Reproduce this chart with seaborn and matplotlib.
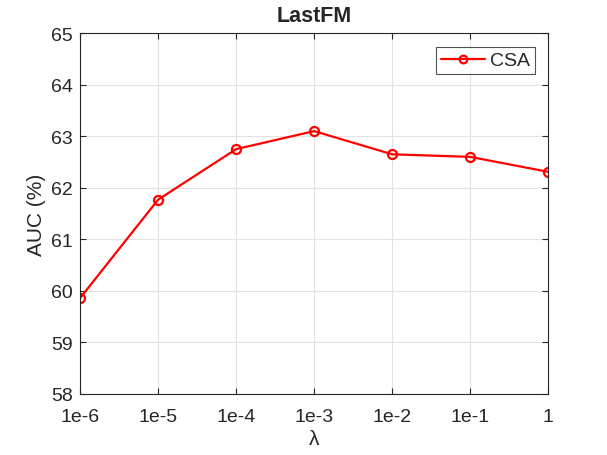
import matplotlib
matplotlib.use("Agg")
import matplotlib.pyplot as plt
import seaborn as sns
import pandas as pd

# 데이터
lambdas = ["1e-6", "1e-5", "1e-4", "1e-3", "1e-2", "1e-1", "1"]
auc_csa = [59.86, 61.77, 62.75, 63.10, 62.65, 62.60, 62.31]

df = pd.DataFrame({"idx": range(len(lambdas)), "AUC": auc_csa, "method": "CSA"})

sns.set_theme(style="whitegrid")
plt.rcParams['font.family'] = ['Liberation Sans', 'DejaVu Sans']

fig = plt.figure(figsize=(6.07, 4.56), dpi=100)
ax = fig.add_axes([0.132, 0.134, 0.771, 0.791])

sns.lineplot(ax=ax, data=df, x="idx", y="AUC", color="red", linewidth=1.6,
             marker="o", markersize=6.5, markerfacecolor="none",
             markeredgecolor="red", markeredgewidth=1.6, label="CSA")

ax.set_xlim(0, 6)
ax.set_ylim(58, 65)
ax.set_xticks(range(len(lambdas)))
ax.set_xticklabels(lambdas)
ax.set_yticks(range(58, 66))
ax.grid(True, color="#e3e3e3", linewidth=0.8)
for s in ax.spines.values():
    s.set_visible(True)
    s.set_color("#262626")
    s.set_linewidth(0.8)
ax.tick_params(direction="in", length=4, width=0.8, color="#262626",
               labelsize=14, labelcolor="#262626", top=True, right=True,
               bottom=True, left=True)
ax.tick_params(axis="x", pad=10)
ax.tick_params(axis="y", pad=5)
ax.set_xlabel("λ", fontsize=15, color="#262626", labelpad=3)
ax.set_ylabel("AUC (%)", fontsize=15, color="#262626", labelpad=4)
ax.set_title("LastFM", fontsize=15.5, fontweight="bold", pad=9)

leg = ax.legend(loc="upper right", fontsize=14, frameon=True, fancybox=False,
                edgecolor="#262626", handlelength=2.3, borderpad=0.25,
                handletextpad=0.25, markerscale=0.85, borderaxespad=0,
                bbox_to_anchor=(0.972, 0.962))
leg.get_frame().set_linewidth(0.8)

plt.savefig("out.png", dpi=100)
